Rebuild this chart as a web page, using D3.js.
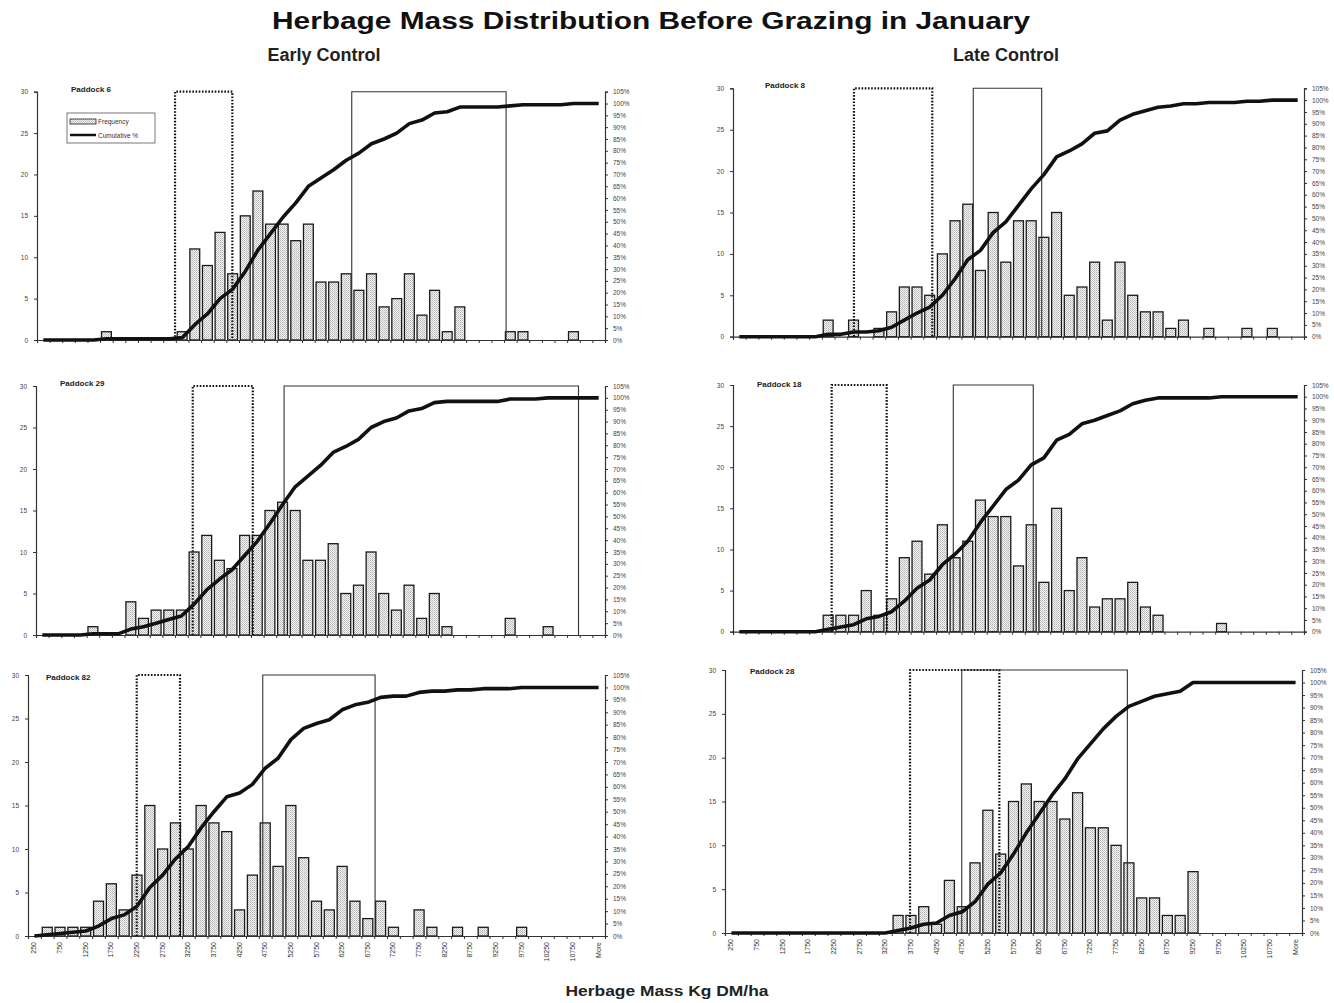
<!DOCTYPE html>
<html>
<head>
<meta charset="utf-8">
<script src="https://cdn.jsdelivr.net/npm/d3@7"></script>
<style>
  body { margin: 0; background: #fff; }
  svg { display: block; }
  text { font-family: "Liberation Sans", Arial, sans-serif; }
</style>
</head>
<body>
<svg id="chart" width="1334" height="1003"></svg>
<script>
// Histogram bins (upper edge, kg DM/ha) as produced by the frequency tool
const categories = ["250","500","750","1000","1250","1500","1750","2000","2250","2500",
  "2750","3000","3250","3500","3750","4000","4250","4500","4750","5000",
  "5250","5500","5750","6000","6250","6500","6750","7000","7250","7500",
  "7750","8000","8250","8500","8750","9000","9250","9500","9750","10000",
  "10250","10500","10750","11000","More"];

// Every other bin is labelled on the bottom axes
const tickLabels = ["250","750","1250","1750","2250","2750","3250","3750","4250","4750",
  "5250","5750","6250","6750","7250","7750","8250","8750","9250","9750",
  "10250","10750","More"];

const countTicks = [0, 5, 10, 15, 20, 25, 30];
const pctTicks = [0, 0.05, 0.10, 0.15, 0.20, 0.25, 0.30, 0.35, 0.40, 0.45, 0.50,
  0.55, 0.60, 0.65, 0.70, 0.75, 0.80, 0.85, 0.90, 0.95, 1.00, 1.05];

// Frequency of sample points per bin
const paddock6 = [0,0,0,0,0,1,0,0,0,0, 0,1,11,9,13,8,15,18,14,14,
  12,14,7,7,8,6,8,4,5,8, 3,6,1,4,0,0,0,1,1,0, 0,0,1,0,0];
const paddock29 = [0,0,0,0,1,0,0,4,2,3, 3,3,10,12,9,8,12,12,15,16,
  15,9,9,11,5,6,10,5,3,6, 2,5,1,0,0,0,0,2,0,0, 1,0,0,0,0];
const paddock82 = [0,1,1,1,1,4,6,3,7,15, 10,13,10,15,13,12,3,7,13,8,
  15,9,4,3,8,4,2,4,1,0, 3,1,0,1,0,1,0,0,1,0, 0,0,0,0,0];
const paddock8 = [0,0,0,0,0,0,0,2,0,2, 0,1,3,6,6,5,10,14,16,8,
  15,9,14,14,12,15,5,6,9,2, 9,5,3,3,1,2,0,1,0,0, 1,0,1,0,0];
const paddock18 = [0,0,0,0,0,0,0,2,2,2, 5,2,4,9,11,7,13,9,11,16,
  14,14,8,13,6,15,5,9,3,4, 4,6,3,2,0,0,0,0,1,0, 0,0,0,0,0];
const paddock28 = [0,0,0,0,0,0,0,0,0,0, 0,0,0,2,2,3,1,6,3,8,
  14,9,15,17,15,15,13,16,12,12, 10,8,4,4,2,2,7,0,0,0, 0,0,0,0,0];

const paddockNames = ["Paddock 6", "Paddock 29", "Paddock 82", "Paddock 8", "Paddock 18", "Paddock 28"];
const paddockSeries = [paddock6, paddock29, paddock82, paddock8, paddock18, paddock28];

// Herbage mass ranges (kg DM/ha) outlined on each paddock: dotted and solid frames
const dottedRanges = [[2734, 3869], [3099, 4286], [2120, 2964], [2383, 3926], [1944, 3028], [3608, 5349]];
const solidRanges  = [[6234, 9291], [4905, 10726], [4577, 6767], [4734, 6082], [4340, 5916], [4616, 7845]];

// Panel geometry (plot area of each histogram)
const panels = [
  { left: 37,  right: 605,  top: 91.7, bottom: 340,   lx: 71,  ly: 92,  xLabels: false, legend: true },
  { left: 36,  right: 605,  top: 386,  bottom: 635,   lx: 60,  ly: 386, xLabels: false },
  { left: 28,  right: 605,  top: 675,  bottom: 936,   lx: 46,  ly: 680, xLabels: true },
  { left: 733, right: 1304, top: 88.3, bottom: 336.7, lx: 765, ly: 88,  xLabels: false },
  { left: 733, right: 1304, top: 385,  bottom: 631.7, lx: 757, ly: 387, xLabels: false },
  { left: 725, right: 1302, top: 670,  bottom: 933,   lx: 750, ly: 674, xLabels: true }
];

const svg = d3.select("#chart");

// Stippled fill for the frequency bars
const defs = svg.append("defs");
const pat = defs.append("pattern").attr("id", "stipple")
  .attr("width", 2).attr("height", 2).attr("patternUnits", "userSpaceOnUse");
pat.append("rect").attr("width", 2).attr("height", 2).attr("fill", "#f4f4f4");
pat.append("rect").attr("width", 1).attr("height", 1).attr("fill", "#b4b4b4");
pat.append("rect").attr("x", 1).attr("y", 1).attr("width", 1).attr("height", 1).attr("fill", "#c8c8c8");

// Titles
svg.append("text").attr("x", 651).attr("y", 29).attr("text-anchor", "middle")
  .attr("font-size", 24.5).attr("font-weight", "bold").attr("fill", "#111")
  .attr("textLength", 758).attr("lengthAdjust", "spacingAndGlyphs")
  .text("Herbage Mass Distribution Before Grazing in January");
svg.append("text").attr("x", 324).attr("y", 61).attr("text-anchor", "middle")
  .attr("font-size", 18).attr("font-weight", "bold").attr("fill", "#222")
  .text("Early Control");
svg.append("text").attr("x", 1006).attr("y", 61).attr("text-anchor", "middle")
  .attr("font-size", 18).attr("font-weight", "bold").attr("fill", "#222")
  .text("Late Control");
svg.append("text").attr("x", 667).attr("y", 996).attr("text-anchor", "middle")
  .attr("font-size", 15).attr("font-weight", "bold").attr("fill", "#222")
  .attr("textLength", 203).attr("lengthAdjust", "spacingAndGlyphs")
  .text("Herbage Mass Kg DM/ha");

panels.forEach((p, k) => {
  const freq = paddockSeries[k];
  const g = svg.append("g");

  const x = d3.scaleBand().domain(categories).range([p.left, p.right]).paddingInner(0).paddingOuter(0);
  const mass = d3.scaleLinear().domain([0, 250 * categories.length]).range([p.left, p.right]);
  const y = d3.scaleLinear().domain([0, 30]).range([p.bottom, p.top]);
  const yPct = d3.scaleLinear().domain([0, 1.05]).range([p.bottom, p.top]);
  const bw = x.bandwidth();

  // Frequency bars
  g.append("g").selectAll("rect")
    .data(freq.map((v, i) => ({ cat: categories[i], v })).filter(d => d.v > 0))
    .join("rect")
    .attr("x", d => x(d.cat) + bw * 0.11)
    .attr("width", bw * 0.78)
    .attr("y", d => y(d.v))
    .attr("height", d => y(0) - y(d.v))
    .attr("fill", "url(#stipple)")
    .attr("stroke", "#1a1a1a")
    .attr("stroke-width", 1.3);

  // Left count axis
  const ax = g.append("g").attr("transform", `translate(${p.left},0)`)
    .call(d3.axisLeft(y).tickValues(countTicks).tickSize(3).tickPadding(6));
  // Right cumulative-percentage axis
  const ar = g.append("g").attr("transform", `translate(${p.right},0)`)
    .call(d3.axisRight(yPct).tickValues(pctTicks).tickSize(3).tickPadding(5)
      .tickFormat(d3.format(".0%")));
  // Category axis: ticks between bins
  const ab = g.append("g").attr("transform", `translate(0,${p.bottom})`)
    .call(d3.axisBottom(mass).tickValues(categories.map((c, i) => i * 250).concat([250 * categories.length]))
      .tickSize(3).tickFormat(""));
  [ax, ar, ab].forEach(a => {
    a.select(".domain").attr("stroke", "#333").attr("stroke-width", 1.2);
    a.selectAll(".tick line").attr("stroke", "#333");
    a.selectAll(".tick text").attr("font-size", 6.5).attr("fill", "#444")
      .attr("font-family", "\"Liberation Sans\", Arial, sans-serif");
  });

  if (p.xLabels) {
    g.append("g").selectAll("text").data(tickLabels).join("text")
      .attr("transform", d => `translate(${x(d) + bw / 2 + 2},${p.bottom + 6}) rotate(-90)`)
      .attr("text-anchor", "end")
      .attr("font-size", 7).attr("fill", "#333")
      .text(d => d);
  }

  // Outlined mass ranges
  const dr = dottedRanges[k], sr = solidRanges[k];
  g.append("path")
    .attr("d", `M${mass(dr[0])},${y(0)}V${y(30)}H${mass(dr[1])}V${y(0)}`)
    .attr("fill", "none").attr("stroke", "#111").attr("stroke-width", 2.2)
    .attr("stroke-dasharray", "1.6,1.6");
  g.append("path")
    .attr("d", `M${mass(sr[0])},${y(0)}V${y(30)}H${mass(sr[1])}V${y(0)}`)
    .attr("fill", "none").attr("stroke", "#333").attr("stroke-width", 1.1);

  // Cumulative percentage line
  const cum = d3.cumsum(freq);
  const total = cum[cum.length - 1];
  const line = d3.line()
    .x((d, i) => x(categories[i]) + bw / 2)
    .y(d => yPct(d / total));
  g.append("path").datum(Array.from(cum))
    .attr("d", line)
    .attr("fill", "none").attr("stroke", "#111").attr("stroke-width", 3.6)
    .attr("stroke-linejoin", "round");

  // Paddock label
  g.append("text").attr("x", p.lx).attr("y", p.ly)
    .attr("font-size", 8).attr("font-weight", "bold").attr("fill", "#222")
    .text(paddockNames[k]);

  if (p.legend) {
    const lg = g.append("g").attr("transform", "translate(67,113)");
    lg.append("rect").attr("width", 88).attr("height", 30)
      .attr("fill", "#fff").attr("stroke", "#555").attr("stroke-width", 0.8);
    lg.append("rect").attr("x", 3).attr("y", 6).attr("width", 26).attr("height", 5)
      .attr("fill", "url(#stipple)").attr("stroke", "#222").attr("stroke-width", 0.8);
    lg.append("line").attr("x1", 3).attr("x2", 29).attr("y1", 22).attr("y2", 22)
      .attr("stroke", "#111").attr("stroke-width", 2.5);
    lg.append("text").attr("x", 31).attr("y", 11).attr("font-size", 6.5).attr("fill", "#333").text("Frequency");
    lg.append("text").attr("x", 31).attr("y", 24.5).attr("font-size", 6.5).attr("fill", "#333").text("Cumulative %");
  }
});
</script>
</body>
</html>
